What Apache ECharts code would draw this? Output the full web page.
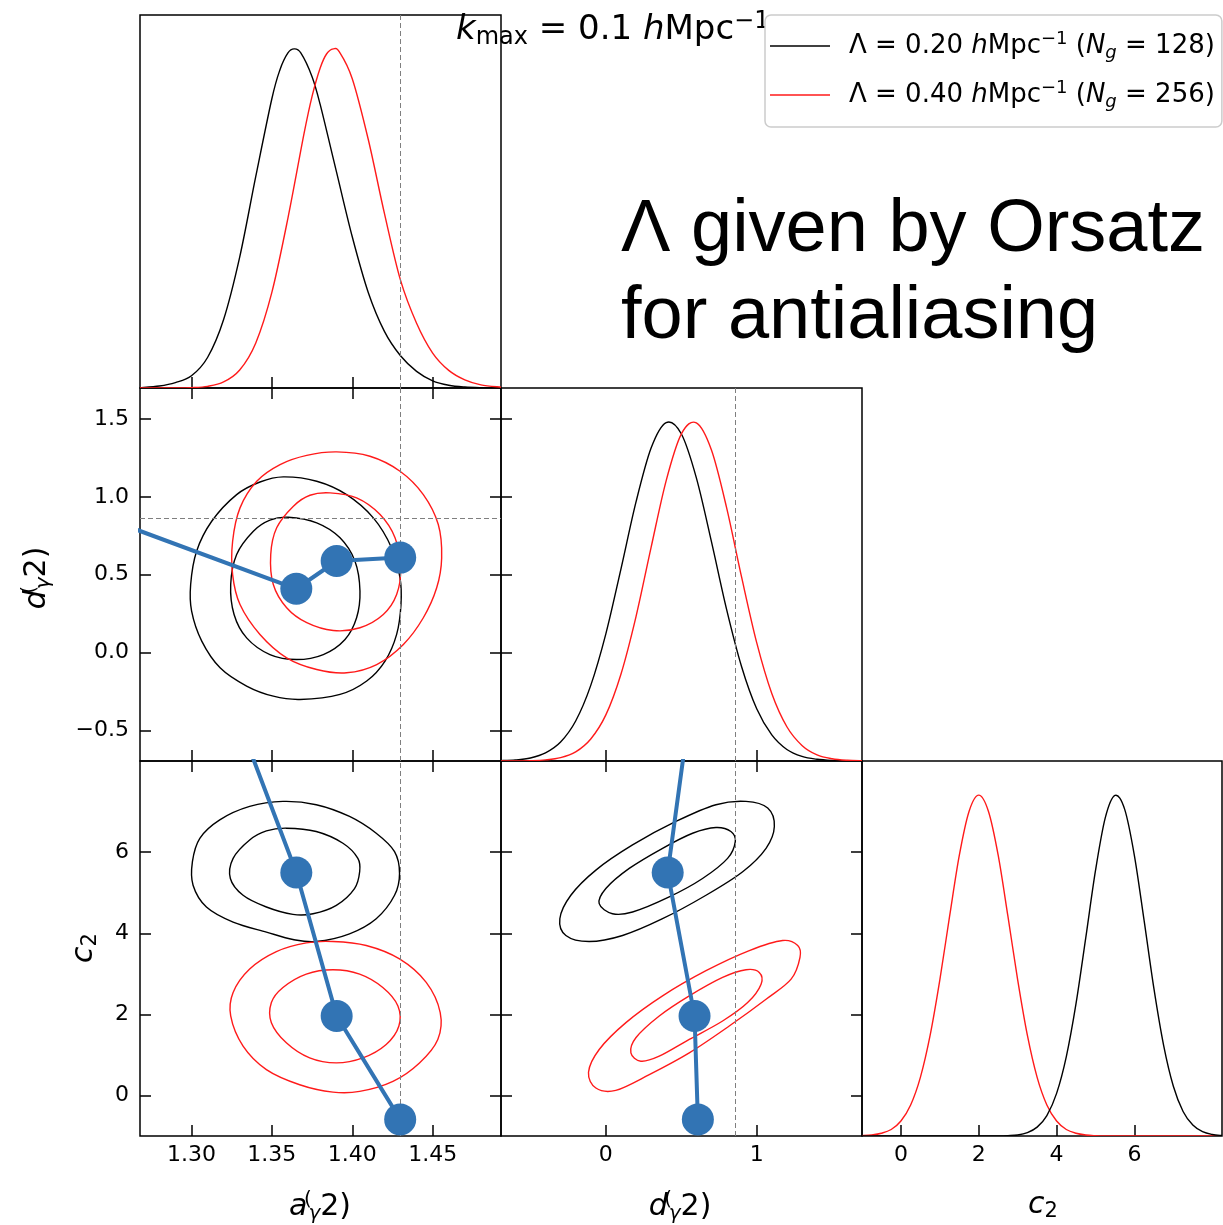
<!DOCTYPE html>
<html><head><meta charset="utf-8">
<script src="https://cdn.jsdelivr.net/npm/echarts@6/dist/echarts.min.js"></script>
<style>html,body{margin:0;padding:0;background:#fff}#c{width:1223px;height:1225px}</style>
</head><body><div id="c"></div>
<script>
// ---------- axis ranges & ticks ----------
const aRange = [1.268, 1.4925];
const dRange = [-0.695, 1.698];
const cRange = [-1.0, 8.25];
const densRange = [0, 1.1];
const aTicks = [1.30, 1.35, 1.40, 1.45];
const dTicksX = [0, 1];
const dTicksY = [-0.5, 0.0, 0.5, 1.0, 1.5];
const cTicks = [0, 2, 4, 6];

// ---------- reference (dashed) values ----------
const aTrue = 1.4286;
const dTrue = 0.858;

// ---------- 1D marginals (x, normalised density) ----------
const aBlackPts = [[1.268,0.001],[1.28,0.006],[1.29,0.016],[1.30,0.036],[1.31,0.090],[1.32,0.202],[1.33,0.386],[1.34,0.624],[1.35,0.853],[1.355,0.938],[1.36,0.988],[1.3638,1.0],[1.368,0.988],[1.375,0.918],[1.38,0.837],[1.39,0.641],[1.40,0.446],[1.41,0.281],[1.42,0.167],[1.43,0.095],[1.44,0.049],[1.45,0.021],[1.46,0.008],[1.47,0.0028],[1.48,0.0009],[1.4925,0.0002]];
const aRedPts = [[1.268,0],[1.29,0.0002],[1.30,0.0012],[1.31,0.0049],[1.32,0.0177],[1.33,0.053],[1.34,0.133],[1.35,0.282],[1.36,0.501],[1.37,0.750],[1.375,0.860],[1.38,0.943],[1.384,0.985],[1.3882,1.0],[1.392,0.991],[1.40,0.912],[1.41,0.732],[1.42,0.515],[1.43,0.318],[1.44,0.191],[1.45,0.103],[1.46,0.052],[1.47,0.024],[1.48,0.0093],[1.4925,0.0024]];

const dGrid = [-0.7,-0.6,-0.5,-0.4,-0.3,-0.2,-0.1,0.0,0.1,0.2,0.3,0.4,0.5,0.6,0.7,0.8,0.9,1.0,1.1,1.2,1.3,1.4,1.5,1.6,1.7];
const dBlack = [0.001,0.003,0.009,0.024,0.056,0.118,0.223,0.375,0.566,0.764,0.923,0.998,0.965,0.835,0.647,0.448,0.278,0.154,0.077,0.034,0.0135,0.005,0.0015,0.0004,0];
const dRed = [0,0.0003,0.001,0.0034,0.010,0.027,0.065,0.136,0.256,0.426,0.630,0.827,0.964,0.997,0.917,0.748,0.542,0.349,0.199,0.101,0.046,0.018,0.0065,0.002,0.0006];

const cGrid = [-1,-0.75,-0.5,-0.25,0,0.25,0.5,0.75,1,1.25,1.5,1.75,2,2.25,2.5,2.75,3,3.25,3.5,3.75,4,4.25,4.5,4.75,5,5.25,5.5,5.75,6,6.25,6.5,6.75,7,7.25,7.5,7.75,8,8.25];
const cRed = [0.001,0.003,0.008,0.019,0.044,0.091,0.172,0.295,0.458,0.644,0.823,0.952,1.0,0.952,0.823,0.644,0.458,0.295,0.172,0.091,0.044,0.019,0.008,0.003,0.001,0,0,0,0,0,0,0,0,0,0,0,0,0];
const cBlack = [0,0,0,0,0,0,0,0,0,0,0,0,0,0,0,0.001,0.003,0.010,0.026,0.060,0.125,0.233,0.389,0.582,0.779,0.933,0.999,0.958,0.822,0.631,0.433,0.266,0.146,0.072,0.032,0.0125,0.0044,0.0014];

// ---------- 2D contours (68% inner / 95% outer) ----------
const adBlackOuter = [[1.3571,1.128],[1.3779,1.100],[1.3965,1.014],[1.4131,0.865],[1.4245,0.672],[1.4297,0.480],[1.4303,0.309],[1.4276,0.117],[1.4204,-0.054],[1.4090,-0.182],[1.3924,-0.268],[1.3675,-0.300],[1.3509,-0.279],[1.3343,-0.214],[1.3178,-0.097],[1.3064,0.074],[1.3001,0.266],[1.2995,0.437],[1.3032,0.651],[1.3126,0.843],[1.3281,1.014],[1.3426,1.095]];
const adBlackInner = [[1.3602,0.869],[1.3779,0.833],[1.3924,0.737],[1.4017,0.587],[1.4048,0.395],[1.4027,0.224],[1.3955,0.085],[1.3820,-0.012],[1.3654,-0.044],[1.3488,-0.012],[1.3343,0.095],[1.3265,0.245],[1.3244,0.437],[1.3281,0.630],[1.3385,0.779],[1.3488,0.850]];
const adRedOuter = [[1.3903,1.288],[1.4110,1.260],[1.4297,1.164],[1.4442,1.014],[1.4535,0.822],[1.4556,0.608],[1.4525,0.416],[1.4442,0.224],[1.4318,0.053],[1.4152,-0.076],[1.3965,-0.129],[1.3779,-0.108],[1.3592,-0.033],[1.3426,0.117],[1.3302,0.309],[1.3256,0.501],[1.3256,0.715],[1.3302,0.929],[1.3406,1.100],[1.3551,1.207],[1.3717,1.266]];
const adRedInner = [[1.3862,1.025],[1.4027,0.993],[1.4173,0.886],[1.4266,0.737],[1.4301,0.544],[1.4276,0.373],[1.4193,0.245],[1.4048,0.160],[1.3882,0.142],[1.3717,0.192],[1.3592,0.288],[1.3509,0.437],[1.3493,0.630],[1.3530,0.801],[1.3634,0.940],[1.3737,1.010]];

const acBlackOuter = [[1.3569,7.254],[1.3776,7.172],[1.3983,6.882],[1.4149,6.468],[1.4263,6.014],[1.4294,5.477],[1.4263,4.938],[1.4149,4.360],[1.3983,3.988],[1.3776,3.797],[1.3631,3.847],[1.3466,4.029],[1.3259,4.277],[1.3093,4.649],[1.3010,5.186],[1.3006,5.766],[1.3052,6.344],[1.3176,6.799],[1.3362,7.130]];
const acBlackInner = [[1.3590,6.593],[1.3776,6.510],[1.3942,6.221],[1.4035,5.848],[1.4046,5.518],[1.4014,5.104],[1.3901,4.690],[1.3756,4.483],[1.3631,4.467],[1.3466,4.649],[1.3321,4.938],[1.3242,5.352],[1.3259,5.848],[1.3362,6.303],[1.3466,6.526]];
const acRedOuter = [[1.3880,3.797],[1.4087,3.698],[1.4294,3.367],[1.4460,2.788],[1.4547,2.044],[1.4532,1.382],[1.4418,0.803],[1.4253,0.348],[1.4046,0.100],[1.3880,0.083],[1.3673,0.265],[1.3466,0.638],[1.3321,1.217],[1.3244,1.961],[1.3259,2.540],[1.3362,3.119],[1.3528,3.549],[1.3714,3.764]];
const acRedInner = [[1.3880,3.102],[1.4046,2.995],[1.4190,2.664],[1.4284,2.209],[1.4290,1.713],[1.4211,1.258],[1.4066,0.927],[1.3901,0.803],[1.3735,0.927],[1.3590,1.300],[1.3497,1.796],[1.3497,2.292],[1.3569,2.664],[1.3714,2.995]];

const dcBlackOuter = [[0.929,7.254],[1.073,7.089],[1.117,6.634],[1.062,6.097],[0.907,5.518],[0.664,4.938],[0.376,4.359],[0.111,3.946],[-0.111,3.797],[-0.265,3.946],[-0.305,4.359],[-0.232,4.938],[-0.066,5.559],[0.177,6.179],[0.464,6.758],[0.730,7.172]];
const dcBlackInner = [[0.730,6.609],[0.829,6.510],[0.858,6.262],[0.807,5.848],[0.641,5.352],[0.420,4.897],[0.177,4.525],[0.044,4.483],[-0.044,4.731],[0.000,5.104],[0.155,5.600],[0.376,6.097],[0.575,6.468]];
const dcRedOuter = [[1.172,3.822],[1.272,3.698],[1.287,3.408],[1.228,2.870],[1.062,2.374],[0.818,1.713],[0.553,1.051],[0.288,0.514],[0.066,0.125],[-0.066,0.183],[-0.115,0.571],[-0.044,1.134],[0.133,1.796],[0.376,2.457],[0.664,3.077],[0.951,3.573]];
const dcRedInner = [[0.929,3.102],[1.017,3.035],[1.029,2.746],[0.940,2.292],[0.774,1.837],[0.553,1.382],[0.354,0.968],[0.232,0.844],[0.166,1.051],[0.199,1.424],[0.354,1.961],[0.553,2.457],[0.774,2.912]];

// ---------- best-fit path (blue) ----------
const pathA = [1.20, 1.3652, 1.3903, 1.4298];
const pathD = [1.040, 0.410, 0.588, 0.610];
const pathC = [22.8, 5.50, 1.96, -0.59];

// ---------- labels ----------
const legendNames = ['L020', 'L040'];
const legendTexts = {
  L020: '{g|}{t|Λ = 0.20 }{i|h}{t|Mpc}{sup|−1}{t| (}{i|N}{sub|g}{t| = 128)}',
  L040: '{g|}{t|Λ = 0.40 }{i|h}{t|Mpc}{sup|−1}{t| (}{i|N}{sub|g}{t| = 256)}'
};
const noteLines = ['Λ given by Orsatz', 'for antialiasing'];

// ================= build =================
const BLACK = '#000000', RED = '#ff1a1a', BLUE = '#3274b4', GREY = '#7f7f7f';
const FONT = 'DejaVu Sans';

const grids = [
  {left:140, top:15,  width:361, height:373},
  {left:140, top:388, width:361, height:373},
  {left:501, top:388, width:361, height:373},
  {left:140, top:761, width:361, height:375},
  {left:501, top:761, width:361, height:375},
  {left:862, top:761, width:360, height:375}
].map(g => Object.assign({show:true, borderColor:'#000', borderWidth:1.5, backgroundColor:'transparent', containLabel:false}, g));

function fmtD(v){ return (v < 0 ? '−' : '') + Math.abs(v).toFixed(1); }
function fmtA(v){ return v.toFixed(2); }
function fmtC(v){ return String(v); }

function axis(gridIndex, pos, range, ticks, fmt) {
  return {
    type:'value', gridIndex, position:pos, min:range[0], max:range[1],
    axisLine:{show:false, onZero:false},
    splitLine:{show:false},
    axisTick:{show: !!ticks, inside:true, length:11, customValues: ticks || [], lineStyle:{color:'#000', width:1.5}},
    axisLabel:{show: !!fmt, customValues: ticks || [], formatter: fmt, color:'#000', fontSize:22, fontFamily:FONT,
               margin: (pos==='left'||pos==='right') ? 11 : 8},
    silent:true
  };
}

const xAxes = [
  axis(0,'bottom',aRange,aTicks),
  axis(1,'bottom',aRange,aTicks),
  axis(1,'top',aRange,aTicks),
  axis(2,'bottom',dRange,dTicksX),
  axis(3,'bottom',aRange,aTicks,fmtA),
  axis(3,'top',aRange,aTicks),
  axis(4,'bottom',dRange,dTicksX,v=>String(v)),
  axis(4,'top',dRange,dTicksX),
  axis(5,'bottom',cRange,cTicks,fmtC)
];
const yAxes = [
  axis(0,'left',densRange,null),
  axis(1,'left',dRange,dTicksY,fmtD),
  axis(1,'right',dRange,dTicksY),
  axis(2,'left',densRange,null),
  axis(2,'left',dRange,dTicksY),
  axis(3,'left',cRange,cTicks,fmtC),
  axis(3,'right',cRange,cTicks),
  axis(4,'left',cRange,cTicks),
  axis(4,'right',cRange,cTicks),
  axis(5,'left',densRange,null)
];

function zip(xs, ys){ return xs.map((x,i)=>[x, ys[i]]); }

const dashed = {type:[5,3], color:GREY, width:1};
function mark(list){
  return {silent:true, symbol:['none','none'], animation:false, label:{show:false},
          lineStyle:dashed, emphasis:{disabled:true}, data:list};
}

// Catmull-Rom path through projected points (pixel space)
function spline(P, closed){
  const n = P.length;
  const at = i => closed ? P[(i + n) % n] : P[Math.max(0, Math.min(n - 1, i))];
  let d = 'M' + P[0][0] + ' ' + P[0][1];
  const segs = closed ? n : n - 1;
  for (let i = 0; i < segs; i++) {
    const p0 = at(i - 1), p1 = at(i), p2 = at(i + 1), p3 = at(i + 2);
    const c1x = p1[0] + (p2[0] - p0[0]) / 6, c1y = p1[1] + (p2[1] - p0[1]) / 6;
    const c2x = p2[0] - (p3[0] - p1[0]) / 6, c2y = p2[1] - (p3[1] - p1[1]) / 6;
    d += ' C' + c1x + ' ' + c1y + ' ' + c2x + ' ' + c2y + ' ' + p2[0] + ' ' + p2[1];
  }
  return closed ? d + ' Z' : d;
}

function splineSeries(name, pts, color, xi, yi, closed, ml){
  const s = {type:'custom', xAxisIndex:xi, yAxisIndex:yi, data:pts, encode:{x:0, y:1},
    clip:true, silent:true, z:3, itemStyle:{color},
    renderItem:(params, api) => {
      if (params.dataIndex !== 0) return null;
      const P = pts.map(p => api.coord(p));
      return {type:'path', shape:{pathData: spline(P, closed)},
              style:{fill:'none', stroke:color, lineWidth:1.4}};
    }};
  if (name) s.name = name;
  if (ml) s.markLine = mark(ml);
  return s;
}
const curve = (name, pts, color, xi, yi, ml) => splineSeries(name, pts, color, xi, yi, false, ml);
const contour = (pts, color, xi, yi, ml) => splineSeries(null, pts, color, xi, yi, true, ml);

function path(xs, ys, xi, yi){
  return {type:'line', xAxisIndex:xi, yAxisIndex:yi, data:zip(xs,ys), symbol:'circle', symbolSize:32,
    showSymbol:true, showAllSymbol:true, lineStyle:{color:BLUE, width:4}, itemStyle:{color:BLUE},
    clip:true, silent:true, z:6};
}

const series = [
  curve(legendNames[0], aBlackPts, BLACK, 0, 0, [{xAxis:aTrue}]),
  curve(legendNames[1], aRedPts, RED, 0, 0),
  contour(adBlackOuter, BLACK, 1, 1, [{xAxis:aTrue},{yAxis:dTrue}]),
  contour(adBlackInner, BLACK, 1, 1),
  contour(adRedOuter, RED, 1, 1),
  contour(adRedInner, RED, 1, 1),
  path(pathA, pathD, 1, 1),
  curve('d0', zip(dGrid, dBlack), BLACK, 3, 3, [{xAxis:dTrue}]),
  curve('d1', zip(dGrid, dRed), RED, 3, 3),
  contour(acBlackOuter, BLACK, 4, 5, [{xAxis:aTrue}]),
  contour(acBlackInner, BLACK, 4, 5),
  contour(acRedOuter, RED, 4, 5),
  contour(acRedInner, RED, 4, 5),
  path(pathA, pathC, 4, 5),
  contour(dcBlackOuter, BLACK, 6, 7, [{xAxis:dTrue}]),
  contour(dcBlackInner, BLACK, 6, 7),
  contour(dcRedOuter, RED, 6, 7),
  contour(dcRedInner, RED, 6, 7),
  path(pathD, pathC, 6, 7),
  curve('c1', zip(cGrid, cRed), RED, 8, 9),
  curve('c0', zip(cGrid, cBlack), BLACK, 8, 9)
];

const mathRich = {
  i:{fontStyle:'italic', fontSize:30, fontFamily:FONT, lineHeight:34},
  n:{fontSize:30, fontFamily:FONT, lineHeight:34},
  sup:{fontSize:20, fontFamily:FONT, verticalAlign:'top', lineHeight:20, width:1},
  sub:{fontSize:20, fontStyle:'italic', fontFamily:FONT, verticalAlign:'bottom', lineHeight:20},
  subn:{fontSize:21, fontFamily:FONT, verticalAlign:'bottom', lineHeight:21}
};
function mathText(text, x, y, rot){
  return {type:'text', x, y, rotation: rot || 0, z:5, silent:true,
    style:{text, align:'center', verticalAlign:'middle', fill:'#000', fontFamily:FONT, fontSize:30, rich:mathRich}};
}

const graphic = [
  mathText('{i|a}{sup|(}{sub|γ}{n|2)}', 320, 1207),
  mathText('{i|d}{sup|(}{sub|γ}{n|2)}', 680, 1207),
  mathText('{i|c}{subn|2}', 1043, 1205),
  mathText('{i|d}{sup|(}{sub|γ}{n|2)}', 37, 578, Math.PI/2),
  mathText('{i|c}{subn|2}', 84, 948, Math.PI/2),
  {type:'text', x:456, y:30, z:1, silent:true,
   style:{text:'{i|k}{sub|max}{t| = 0.1 }{i|h}{t|Mpc}{sup|−1}', align:'left', verticalAlign:'middle', fill:'#000',
     rich:{
       t:{fontSize:34, fontFamily:FONT, lineHeight:40},
       i:{fontSize:34, fontFamily:FONT, fontStyle:'italic', lineHeight:40},
       sub:{fontSize:24, fontFamily:FONT, verticalAlign:'bottom', lineHeight:24},
       sup:{fontSize:24, fontFamily:FONT, verticalAlign:'top', lineHeight:24}
     }}},
  {type:'text', x:621, y:231, z:5, silent:true,
   style:{text:noteLines[0], align:'left', verticalAlign:'middle', fill:'#000', font:'74px "Liberation Sans", Arial, sans-serif'}},
  {type:'text', x:621, y:318, z:5, silent:true,
   style:{text:noteLines[1], align:'left', verticalAlign:'middle', fill:'#000', font:'74px "Liberation Sans", Arial, sans-serif'}}
];

const option = {
  animation:false,
  backgroundColor:'#ffffff',
  textStyle:{fontFamily:FONT},
  grid: grids,
  xAxis: xAxes,
  yAxis: yAxes,
  legend:{
    show:true, left:765, top:15, orient:'vertical', z:20,
    data: legendNames.map(n => ({name:n, icon:'rect', itemStyle:{color: n === 'L020' ? BLACK : RED}})),
    itemWidth:60, itemHeight:1.6, itemGap:17,
    padding:[15, 7, 16, 5],
    backgroundColor:'#ffffff', borderColor:'#cccccc', borderWidth:1.5, borderRadius:6,
    selectedMode:false,
    formatter: n => legendTexts[n],
    textStyle:{color:'#000', fontFamily:FONT, fontSize:26,
      rich:{
        g:{width:14},
        t:{fontSize:26, fontFamily:FONT, lineHeight:32},
        i:{fontSize:26, fontFamily:FONT, fontStyle:'italic', lineHeight:32},
        sup:{fontSize:18, fontFamily:FONT, verticalAlign:'top', lineHeight:18},
        sub:{fontSize:18, fontFamily:FONT, fontStyle:'italic', verticalAlign:'bottom', lineHeight:18}
      }}
  },
  graphic: graphic,
  series: series
};

const chart = echarts.init(document.getElementById('c'), null, {renderer:'canvas', width:1223, height:1225});
chart.setOption(option);
</script></body></html>
